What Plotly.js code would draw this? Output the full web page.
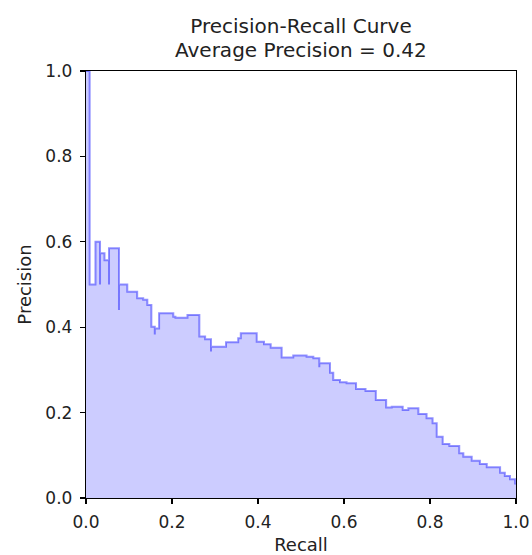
<!DOCTYPE html>
<html>
<head>
<meta charset="utf-8">
<script src="https://cdn.plot.ly/plotly-3.0.1.min.js"></script>
<style>html,body{margin:0;padding:0;background:#fff;}#chart{width:532px;height:555px;}</style>
</head>
<body>
<div id="chart"></div>
<script>
const recall = [0, 0.0085, 0.022, 0.0326, 0.0326, 0.043, 0.0535, 0.0535, 0.0767, 0.0767,
  0.096, 0.119, 0.133, 0.1426, 0.152, 0.160, 0.160, 0.170, 0.203, 0.208,
  0.236, 0.2636, 0.277, 0.2907, 0.2907, 0.3256, 0.354, 0.360, 0.397, 0.414,
  0.4295, 0.455, 0.482, 0.513, 0.5287, 0.5426, 0.5426, 0.5674, 0.575, 0.5907,
  0.606, 0.628, 0.65, 0.674, 0.698, 0.711, 0.7365, 0.7496, 0.773, 0.792,
  0.806, 0.8156, 0.8295, 0.845, 0.868, 0.8775, 0.897, 0.916, 0.932, 0.963,
  0.974, 0.986, 0.998, 1.0];
const precision = [1.0, 0.50, 0.60, 0.50, 0.573, 0.557, 0.50, 0.585, 0.44, 0.50,
  0.483, 0.468, 0.464, 0.452, 0.401, 0.383, 0.397, 0.4325, 0.4245, 0.422,
  0.4286, 0.378, 0.372, 0.343, 0.354, 0.3646, 0.374, 0.3857, 0.366, 0.360,
  0.352, 0.329, 0.334, 0.331, 0.327, 0.306, 0.3154, 0.2935, 0.2763, 0.271,
  0.2686, 0.255, 0.2506, 0.2295, 0.212, 0.2139, 0.206, 0.210, 0.1967, 0.1866,
  0.175, 0.1436, 0.1265, 0.1218, 0.1047, 0.0967, 0.0874, 0.0796, 0.072, 0.0593,
  0.0515, 0.0438, 0.034, 0.034];
const averagePrecision = 0.42;
const titleText = 'Precision-Recall Curve';
const subtitleText = 'Average Precision = ' + averagePrecision.toFixed(2);

const font = 'DejaVu Sans, sans-serif';
const trace = {
  x: recall, y: precision, type: 'scatter', mode: 'lines',
  line: {shape: 'hv', color: 'rgba(0,0,255,0.42)', width: 2},
  fill: 'tozeroy', fillcolor: 'rgba(0,0,255,0.2)',
  hoverinfo: 'skip'
};
const axisCommon = {
  showline: true, mirror: true, linecolor: '#000', linewidth: 1.2,
  ticks: 'outside', ticklen: 5, tickwidth: 1.2, tickcolor: '#000',
  showgrid: false, zeroline: false,
  tickfont: {family: font, size: 17, color: '#222'},
  tick0: 0, dtick: 0.2, tickformat: '.1f'
};
const layout = {
  width: 532, height: 555,
  margin: {l: 86, r: 16, t: 71, b: 57},
  paper_bgcolor: '#fff', plot_bgcolor: '#fff',
  showlegend: false,
  title: {
    text: titleText,
    font: {family: font, size: 20, color: '#222'},
    x: 0.5, xref: 'paper', xanchor: 'center',
    y: 1 - 26 / 555, yref: 'container', yanchor: 'middle'
  },
  annotations: [{
    text: subtitleText, showarrow: false,
    font: {family: font, size: 20, color: '#222'},
    xref: 'paper', x: 0.5, xanchor: 'center',
    yref: 'paper', y: 1 + (71 - 50) / 427, yanchor: 'middle'
  }],
  xaxis: Object.assign({}, axisCommon, {
    range: [0, 1], ticklabelstandoff: 3,
    title: {text: 'Recall', font: {family: font, size: 18, color: '#222'}, standoff: 8}
  }),
  yaxis: Object.assign({}, axisCommon, {
    range: [0, 1], ticklabelstandoff: 4,
    title: {text: 'Precision', font: {family: font, size: 18, color: '#222'}, standoff: 9}
  })
};
Plotly.newPlot('chart', [trace], layout, {staticPlot: true, displayModeBar: false});
</script>
</body>
</html>
